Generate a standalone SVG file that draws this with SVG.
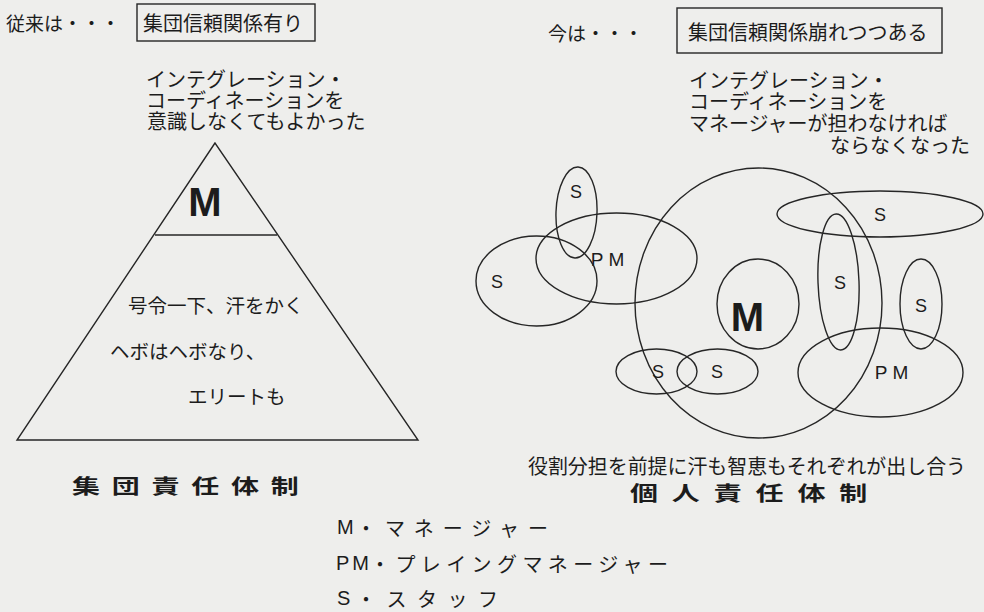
<svg xmlns="http://www.w3.org/2000/svg" width="984" height="612" viewBox="0 0 984 612">
<style>
.bg{fill:#eeeeec}
.ln{fill:none;stroke:#262626;stroke-width:1.4}
.jp{font-family:"Noto Sans CJK JP","Noto Sans CJK SC",sans-serif;fill:#1c1c1c;dominant-baseline:central}
.lat{font-family:"Liberation Sans",Arial,sans-serif;fill:#1c1c1c;dominant-baseline:central}
.s{font-size:18px;text-anchor:middle}
.pm{font-size:19px;letter-spacing:5px;text-anchor:middle}
.big{font-size:40px;font-weight:bold;text-anchor:middle}
.t20{font-size:20px}
.t19{font-size:19.5px}
.title{font-size:20px;font-weight:bold}
.lg{font-size:20px}
</style>
<rect class="bg" x="0" y="0" width="984" height="612"/>

<g id="left-heading">
<text class="jp" x="6" y="22" font-size="19">従来は・・・</text>
</g>
<g id="left-box">
<rect class="ln" x="137" y="4" width="178" height="37"/>
<text class="jp t20" x="143" y="22">集団信頼関係有り</text>
</g>
<g id="left-note">
<text class="jp t20" x="146" y="78">インテグレーション・</text>
<text class="jp t20" x="146" y="99">コーディネーションを</text>
<text class="jp t20" x="147" y="120">意識しなくてもよかった</text>
</g>
<g id="pyramid">
<polygon class="ln" points="215,143 17,440 418,440"/>
<line class="ln" x1="155" y1="235" x2="277" y2="235"/>
<text class="lat big" x="205" y="202">M</text>
<text class="jp t19" x="128" y="304">号令一下、汗をかく</text>
<text class="jp t19" x="110" y="350">ヘボはヘボなり、</text>
<text class="jp t19" x="188" y="395">エリートも</text>
</g>
<g id="left-title">
<text class="jp title" transform="translate(72,485) scale(1.4,1)" letter-spacing="8.4">集団責任体制</text>
</g>

<g id="right-heading">
<text class="jp" x="548" y="32" font-size="19">今は・・・</text>
</g>
<g id="right-box">
<rect class="ln" x="677" y="8" width="265" height="45"/>
<text class="jp t20" x="688" y="31">集団信頼関係崩れつつある</text>
</g>
<g id="right-note">
<text class="jp t20" x="689" y="79">インテグレーション・</text>
<text class="jp t20" x="689" y="100">コーディネーションを</text>
<text class="jp t20" x="689" y="122">マネージャーが担わなければ</text>
<text class="jp t20" x="830" y="144">ならなくなった</text>
</g>

<g id="node-s-top">
<ellipse class="ln" cx="576.5" cy="212.5" rx="20.5" ry="45.5" transform="rotate(2 576.5 212.5)"/>
<text class="lat s" x="576" y="192">S</text>
</g>
<g id="node-pm-left">
<ellipse class="ln" cx="616.5" cy="258.5" rx="80.5" ry="45.5"/>
<text class="lat pm" x="610" y="259">PM</text>
</g>
<g id="node-s-left">
<ellipse class="ln" cx="536.5" cy="281" rx="60.5" ry="45"/>
<text class="lat s" x="497" y="282">S</text>
</g>
<g id="node-m-group">
<ellipse class="ln" cx="758.5" cy="303" rx="123.5" ry="135"/>
</g>
<g id="node-m">
<ellipse class="ln" cx="758" cy="304" rx="41" ry="45"/>
<text class="lat big" x="747.5" y="317">M</text>
</g>
<g id="node-s-bottom1">
<ellipse class="ln" cx="656.5" cy="371.5" rx="40.5" ry="22.5"/>
<text class="lat s" x="658" y="372">S</text>
</g>
<g id="node-s-bottom2">
<ellipse class="ln" cx="717.5" cy="371.5" rx="40.5" ry="22.5"/>
<text class="lat s" x="717" y="372">S</text>
</g>
<g id="node-s-topright">
<ellipse class="ln" cx="880" cy="214" rx="103" ry="23"/>
<text class="lat s" x="880" y="215">S</text>
</g>
<g id="node-s-tall">
<ellipse class="ln" cx="838.5" cy="282" rx="20.5" ry="68" transform="rotate(-2 838.5 282)"/>
<text class="lat s" x="840" y="283">S</text>
</g>
<g id="node-s-right">
<ellipse class="ln" cx="921" cy="304" rx="21" ry="45"/>
<text class="lat s" x="921" y="306">S</text>
</g>
<g id="node-pm-right">
<ellipse class="ln" cx="880.5" cy="372.5" rx="82.5" ry="44.5"/>
<text class="lat pm" x="894" y="372">PM</text>
</g>
<g id="connectors"></g>

<g id="right-caption">
<text class="jp" x="528" y="465" font-size="20" textLength="438" lengthAdjust="spacingAndGlyphs">役割分担を前提に汗も智恵もそれぞれが出し合う</text>
</g>
<g id="right-title">
<text class="jp title" transform="translate(630,492) scale(1.4,1)" letter-spacing="9.9">個人責任体制</text>
</g>

<g id="legend">
<text class="lat" x="337" y="527" font-size="20">M</text>
<text class="jp lg" x="356" y="527" textLength="192" lengthAdjust="spacing">・マネージャー</text>
<text class="lat" x="336" y="563" font-size="20" letter-spacing="3">PM</text>
<text class="jp lg" x="370" y="563" textLength="298" lengthAdjust="spacing">・プレイングマネージャー</text>
<text class="lat" x="337" y="598" font-size="20">S</text>
<text class="jp lg" x="356" y="598" textLength="142" lengthAdjust="spacing">・スタッフ</text>
</g>
</svg>
